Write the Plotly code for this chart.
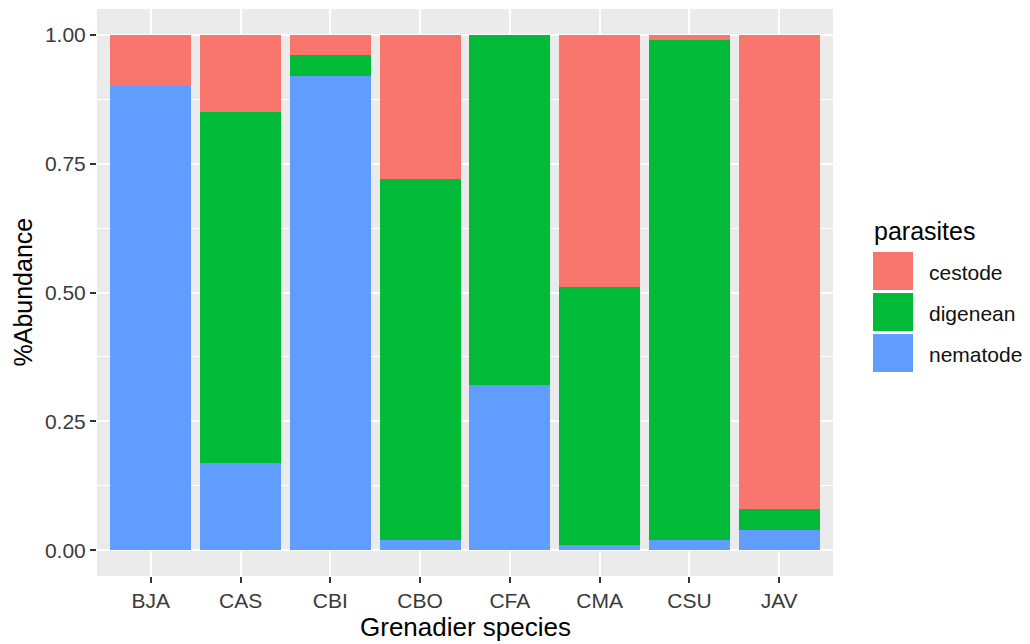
import plotly.graph_objects as go

species = ["BJA", "CAS", "CBI", "CBO", "CFA", "CMA", "CSU", "JAV"]
nematode = [0.90, 0.17, 0.92, 0.02, 0.32, 0.01, 0.02, 0.04]
digenean = [0.00, 0.68, 0.04, 0.70, 0.68, 0.50, 0.97, 0.04]
cestode = [0.10, 0.15, 0.04, 0.28, 0.00, 0.49, 0.01, 0.92]
y_ticks = [0.0, 0.25, 0.5, 0.75, 1.0]
y_tick_labels = ["0.00", "0.25", "0.50", "0.75", "1.00"]
parasites = ["cestode", "digenean", "nematode"]
colors = {"cestode": "#F8766D", "digenean": "#00BA38", "nematode": "#619CFF"}

W, H = 1030, 644
L, R, T, B = 97, 197, 9, 68
PW, PH = W - L - R, H - T - B


def px(x):
    return (x - L) / PW


def py(y):
    return (H - B - y) / PH


FONT = "Liberation Sans, Arial, sans-serif"

fig = go.Figure()
for name, vals in [("nematode", nematode), ("digenean", digenean), ("cestode", cestode)]:
    fig.add_trace(go.Bar(x=species, y=vals, name=name, width=0.9,
                         marker=dict(color=colors[name], line=dict(width=0)),
                         showlegend=False))

fig.update_layout(
    width=W, height=H, barmode="stack",
    margin=dict(l=L, r=R, t=T, b=B, autoexpand=False),
    paper_bgcolor="white", plot_bgcolor="#EBEBEB",
    font=dict(family=FONT, color="#3A3A3A"),
    xaxis=dict(range=[-0.6, 7.6], showgrid=True, gridcolor="white", gridwidth=2,
               ticks="outside", ticklen=6, tickwidth=1.5, tickcolor="#333333",
               tickfont=dict(size=21, color="#3A3A3A", family=FONT),
               showline=False, zeroline=False, fixedrange=True),
    yaxis=dict(range=[-0.05, 1.05], tickvals=y_ticks, ticktext=y_tick_labels,
               showgrid=True, gridcolor="white", gridwidth=2,
               minor=dict(dtick=0.125, tick0=0, showgrid=True, gridcolor="white", gridwidth=1),
               ticks="outside", ticklen=6, tickwidth=1.5, tickcolor="#333333",
               tickfont=dict(size=21, color="#3A3A3A", family=FONT),
               showline=False, zeroline=False, fixedrange=True),
)

# axis titles
fig.add_annotation(text="Grenadier species", xref="paper", yref="paper",
                   x=0.5, y=py(627), xanchor="center", yanchor="middle",
                   showarrow=False, font=dict(size=26, color="black", family=FONT))
fig.add_annotation(text="%Abundance", xref="paper", yref="paper",
                   x=px(22), y=0.5, xanchor="center", yanchor="middle", textangle=-90,
                   showarrow=False, font=dict(size=25, color="black", family=FONT))

# legend (drawn manually to match ggplot key size)
fig.add_annotation(text="parasites", xref="paper", yref="paper",
                   x=px(872), y=py(231), xanchor="left", yanchor="middle",
                   showarrow=False, font=dict(size=25, color="black", family=FONT))
key_tops = [252, 293, 334]
for name, top in zip(parasites, key_tops):
    fig.add_shape(type="rect", xref="paper", yref="paper",
                  x0=px(873), x1=px(913), y0=py(top), y1=py(top + 38),
                  fillcolor=colors[name], line=dict(width=0), layer="above")
    fig.add_annotation(text=name, xref="paper", yref="paper",
                       x=px(927), y=py(top + 20), xanchor="left", yanchor="middle",
                       showarrow=False, font=dict(size=21, color="#111111", family=FONT))

fig.write_html("out.html", config={"displayModeBar": False},
               post_script="document.body.style.margin='0';document.body.style.overflow='hidden';")
